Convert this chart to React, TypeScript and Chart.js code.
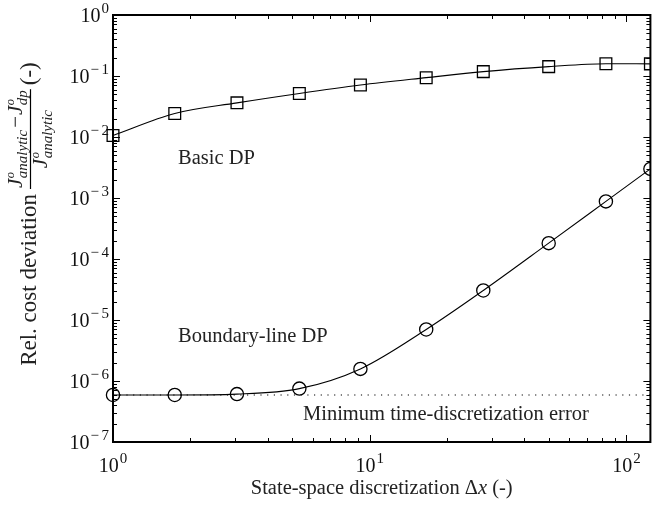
import React, { useEffect, useRef } from 'react';
import { Chart, registerables } from 'chart.js';

Chart.register(...registerables);

// ---- data ----
const deltaX = [1, 1.74, 3.04, 5.32, 9.2, 16.6, 27.7, 49.8, 83.2, 124];
const basicDP = [0.0106, 0.0243, 0.0363, 0.0518, 0.0711, 0.0939, 0.118, 0.1425, 0.159, 0.158];
const boundaryLineDP = [5.9e-7, 5.9e-7, 6.1e-7, 7.5e-7, 1.58e-6, 7.0e-6, 3.05e-5, 1.82e-4, 8.8e-4, 3.0e-3];
const minTimeError = 5.9e-7;
const xLimits = [1, 124];
const yLimits = [1e-7, 1];
const xTickExponents = [0, 1, 2];
const yTickExponents = [0, -1, -2, -3, -4, -5, -6, -7];
const labelBasic = 'Basic DP';
const labelBoundary = 'Boundary-line DP';
const labelMinimum = 'Minimum time-discretization error';

const SERIF = '"Liberation Serif", "Times New Roman", Times, serif';

function drawPow(ctx: CanvasRenderingContext2D, exp: number, x: number, y: number, align: 'right' | 'center') {
  const base = '10';
  const fBase = `20px ${SERIF}`;
  const fExp = `15px ${SERIF}`;
  ctx.font = fBase;
  const wb = ctx.measureText(base).width;
  ctx.font = fExp;
  const neg = exp < 0;
  const digits = String(Math.abs(exp));
  const wMinus = neg ? ctx.measureText('\u2212').width + 2.5 : 0;
  const wd = ctx.measureText(digits).width;
  const total = wb + 1 + wMinus + wd;
  const x0 = align === 'right' ? x - total : x - total / 2;
  ctx.textAlign = 'left';
  ctx.textBaseline = 'alphabetic';
  ctx.font = fBase;
  ctx.fillText(base, x0, y);
  ctx.font = fExp;
  if (neg) ctx.fillText('\u2212', x0 + wb + 1, y - 9);
  ctx.fillText(digits, x0 + wb + 1 + wMinus, y - 9);
}

function rotText(ctx: CanvasRenderingContext2D, text: string, font: string, y: number, x: number) {
  ctx.save();
  ctx.translate(x, y);
  ctx.rotate(-Math.PI / 2);
  ctx.font = font;
  ctx.textAlign = 'left';
  ctx.textBaseline = 'alphabetic';
  ctx.fillText(text, 0, 0);
  ctx.restore();
  ctx.font = font;
  return ctx.measureText(text).width;
}

const framePlugin = {
  id: 'frame',
  afterDatasetsDraw(chart: any) {
    const { ctx, chartArea: a, scales } = chart;
    const xs = scales.x;
    const ys = scales.y;
    ctx.save();
    ctx.strokeStyle = '#000';
    ctx.fillStyle = '#000';
    ctx.lineWidth = 1;
    ctx.beginPath();
    for (let e = 0; e <= 2; e++) {
      for (let m = 1; m <= 9; m++) {
        const v = m * Math.pow(10, e);
        if (v < xLimits[0] || v > xLimits[1]) continue;
        const px = Math.round(xs.getPixelForValue(v)) + 0.5;
        const len = m === 1 ? 7 : 4;
        ctx.moveTo(px, a.bottom);
        ctx.lineTo(px, a.bottom - len);
        ctx.moveTo(px, a.top);
        ctx.lineTo(px, a.top + len);
      }
    }
    for (let e = -7; e <= 0; e++) {
      for (let m = 1; m <= 9; m++) {
        const v = m * Math.pow(10, e);
        if (v < yLimits[0] * 0.999 || v > yLimits[1] * 1.001) continue;
        const py = Math.round(ys.getPixelForValue(v)) + 0.5;
        const len = m === 1 ? 7 : 4;
        ctx.moveTo(a.left, py);
        ctx.lineTo(a.left + len, py);
        ctx.moveTo(a.right, py);
        ctx.lineTo(a.right - len, py);
      }
    }
    ctx.stroke();
    ctx.lineWidth = 2;
    ctx.strokeRect(a.left, a.top, a.right - a.left, a.bottom - a.top);

    // tick labels
    ctx.fillStyle = '#111';
    xTickExponents.forEach((e) => {
      const px = xs.getPixelForValue(Math.pow(10, e));
      drawPow(ctx, e, px, a.bottom + 30, 'center');
    });
    yTickExponents.forEach((e) => {
      const py = ys.getPixelForValue(Math.pow(10, e));
      drawPow(ctx, e, a.left - 4, py + 7, 'right');
    });

    // annotations
    const annFont = `20.5px ${SERIF}`;
    ctx.font = annFont;
    ctx.textAlign = 'left';
    ctx.textBaseline = 'alphabetic';
    ctx.fillStyle = '#222';
    ctx.fillText(labelBasic, 178, 164);
    ctx.fillText(labelBoundary, 178, 342);
    ctx.fillText(labelMinimum, 303, 420);

    // x title
    const p1 = 'State-space discretization \u0394';
    const p2 = 'x';
    const p3 = ' (-)';
    const fReg = `20.5px ${SERIF}`;
    const fIt = `italic 20.5px ${SERIF}`;
    ctx.font = fReg;
    const w1 = ctx.measureText(p1).width;
    const w3 = ctx.measureText(p3).width;
    ctx.font = fIt;
    const w2 = ctx.measureText(p2).width;
    const cx = (a.left + a.right) / 2;
    let x0 = cx - (w1 + w2 + w3) / 2;
    const by = 494;
    ctx.font = fReg;
    ctx.fillText(p1, x0, by);
    x0 += w1;
    ctx.font = fIt;
    ctx.fillText(p2, x0, by);
    x0 += w2;
    ctx.font = fReg;
    ctx.fillText(p3, x0, by);

    // y title (rotated)
    const relFont = `23px ${SERIF}`;
    ctx.font = relFont;
    const relText = 'Rel. cost deviation';
    const relW = ctx.measureText(relText).width;
    rotText(ctx, relText, relFont, 194 + relW, 36);

    const fJ = `italic 21px ${SERIF}`;
    const fSup = `italic 12.5px ${SERIF}`;
    const fSub = `italic 15px ${SERIF}`;
    const fMinus = `21px ${SERIF}`;
    const fracStart = 188;
    let y = fracStart;
    let w = rotText(ctx, 'J', fJ, y, 22);
    let y1 = y - w - 0.5;
    let ws = rotText(ctx, 'o', fSup, y1, 14);
    let wb = rotText(ctx, 'analytic', fSub, y1, 27);
    y = y1 - Math.max(ws, wb) - 2;
    w = rotText(ctx, '\u2212', fMinus, y, 22);
    y -= w + 1;
    w = rotText(ctx, 'J', fJ, y, 22);
    y1 = y - w - 0.5;
    ws = rotText(ctx, 'o', fSup, y1, 14);
    wb = rotText(ctx, 'dp', fSub, y1, 27);
    y = y1 - Math.max(ws, wb);
    const numEnd = y;
    // fraction bar
    ctx.lineWidth = 1.2;
    ctx.beginPath();
    ctx.moveTo(30.5, fracStart + 1);
    ctx.lineTo(30.5, numEnd - 1);
    ctx.stroke();
    // denominator
    ctx.font = fJ;
    const wJ = ctx.measureText('J').width;
    ctx.font = fSub;
    const wA = ctx.measureText('analytic').width;
    const dW = wJ + 0.5 + wA;
    const center = (fracStart + numEnd) / 2;
    const yd = center + dW / 2;
    rotText(ctx, 'J', fJ, yd, 47);
    rotText(ctx, 'o', fSup, yd - wJ - 0.5, 39);
    rotText(ctx, 'analytic', fSub, yd - wJ - 0.5, 52);
    // (-)
    rotText(ctx, '(-)', relFont, numEnd - 5, 36);
    ctx.restore();
  },
};

export default function App() {
  const canvasRef = useRef<HTMLCanvasElement | null>(null);

  useEffect(() => {
    document.body.style.margin = '0';
    const canvas = canvasRef.current;
    if (!canvas) return;
    const toPts = (ys: number[]) => deltaX.map((x, i) => ({ x, y: ys[i] }));
    const clip = { left: 20, top: 20, right: 0, bottom: 20 };
    const chart = new Chart(canvas, {
      type: 'line',
      data: {
        datasets: [
          {
            label: 'Minimum time-discretization error',
            data: [
              { x: xLimits[0], y: minTimeError },
              { x: xLimits[1], y: minTimeError },
            ],
            borderColor: '#000',
            borderWidth: 1.2,
            borderDash: [1.2, 5.5],
            pointRadius: 0,
            fill: false,
            clip,
          } as any,
          {
            label: labelBasic,
            data: toPts(basicDP),
            borderColor: '#000',
            borderWidth: 1.1,
            pointStyle: 'rect',
            pointRadius: 8.3,
            pointBorderWidth: 1.3,
            pointBorderColor: '#000',
            pointBackgroundColor: 'rgba(0,0,0,0)',
            cubicInterpolationMode: 'monotone',
            fill: false,
            clip,
          } as any,
          {
            label: labelBoundary,
            data: toPts(boundaryLineDP),
            borderColor: '#000',
            borderWidth: 1.1,
            pointStyle: 'circle',
            pointRadius: 6.6,
            pointBorderWidth: 1.3,
            pointBorderColor: '#000',
            pointBackgroundColor: 'rgba(0,0,0,0)',
            cubicInterpolationMode: 'monotone',
            fill: false,
            clip,
          } as any,
        ],
      },
      options: {
        responsive: false,
        animation: false,
        layout: { padding: { left: 113, top: 15, right: 1, bottom: 67 } },
        plugins: { legend: { display: false }, tooltip: { enabled: false } },
        scales: {
          x: { type: 'logarithmic', min: xLimits[0], max: xLimits[1], display: false },
          y: { type: 'logarithmic', min: yLimits[0], max: yLimits[1], display: false },
        },
      },
      plugins: [framePlugin],
    });
    return () => chart.destroy();
  }, []);

  return (
    <div style={{ width: 660, height: 509, background: '#fff' }}>
      <canvas ref={canvasRef} width={660} height={509} style={{ display: 'block' }} />
    </div>
  );
}
